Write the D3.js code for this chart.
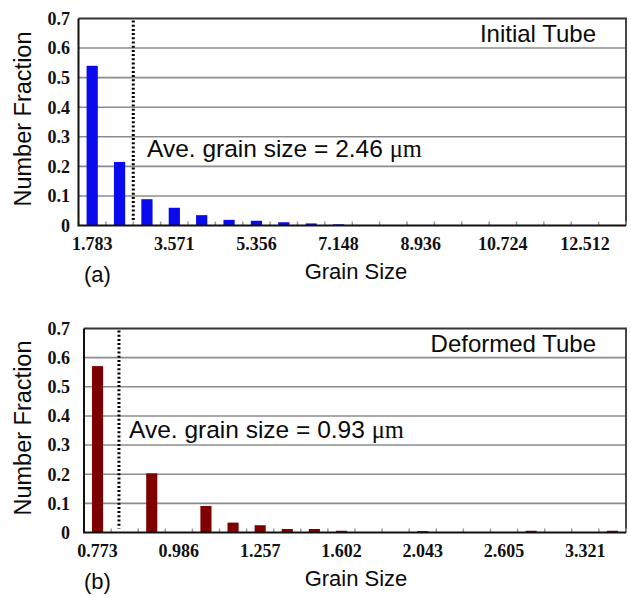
<!DOCTYPE html>
<html>
<head>
<meta charset="utf-8">
<script src="https://cdn.jsdelivr.net/npm/d3@7"></script>
<style>
  body { margin: 0; background: #fff; }
  svg { display: block; }
  .tick-lbl { font-family: "Liberation Serif", "Times New Roman", serif; font-weight: bold; font-size: 18px; fill: #111; }
  .ttl { font-family: "Liberation Sans", Arial, sans-serif; font-size: 22px; fill: #0a0a0a; }
</style>
</head>
<body>
<div id="chart"></div>
<script>

// Data: panel (a) initial tube
var sizesA = ["1.783", "2.379", "2.975", "3.571", "4.167", "4.762", "5.356", "5.952", "6.548", "7.148",
              "7.744", "8.340", "8.936", "9.532", "10.128", "10.724", "11.320", "11.916", "12.512", "13.108"];
var fracA = [0.54, 0.215, 0.089, 0.06, 0.035, 0.019, 0.016, 0.011, 0.007, 0.004,
             0, 0, 0, 0, 0, 0, 0, 0, 0, 0];

// Data: panel (b) deformed tube
var sizesB = ["0.773", "0.838", "0.909", "0.986", "1.069", "1.159", "1.257", "1.363", "1.478", "1.602",
              "1.738", "1.884", "2.043", "2.216", "2.402", "2.605", "2.825", "3.063", "3.321", "3.602"];
var fracB = [0.571, 0, 0.203, 0, 0.091, 0.034, 0.025, 0.012, 0.012, 0.006,
             0, 0, 0.005, 0, 0, 0, 0.006, 0, 0, 0.006];

var yTicks = [0, 0.1, 0.2, 0.3, 0.4, 0.5, 0.6, 0.7];

// position of the dotted average line, in category steps from the left edge
var avgPosA = 2.0,
    avgPosB = 1.29;


var width = 631,
    height = 597;

var svg = d3.select("#chart").append("svg")
    .attr("width", width)
    .attr("height", height);

svg.append("rect").attr("width", width).attr("height", height).attr("fill", "#fff");

var panels = [
    { cats: sizesA, vals: fracA, avg: avgPosA, color: "#0a0aef", left: 78.5, right: 626, top: 18.5, bottom: 225.5,
      label: "Initial Tube", avgText: "2.46", tag: "(a)", labelY: 42, avgY: 157, avgX: 147, axisTitleY: 279, numY: 119 },
    { cats: sizesB, vals: fracB, avg: avgPosB, color: "#7f0000", left: 84, right: 626, top: 328.5, bottom: 532.5,
      label: "Deformed Tube", avgText: "0.93", tag: "(b)", labelY: 352, avgY: 438, avgX: 129, axisTitleY: 586, numY: 428 }
];

panels.forEach(drawPanel);

function drawPanel(p) {

    var g = svg.append("g");

    var rows = p.cats.map(function(c, i) { return { cat: c, val: p.vals[i] }; });

    var x = d3.scaleBand()
        .domain(p.cats)
        .range([p.left, p.right])
        .paddingInner(0.59)
        .paddingOuter(0.295);

    var y = d3.scaleLinear()
        .domain([0, 0.7])
        .range([p.bottom, p.top]);

    var step = x.step();

    // gridlines
    g.selectAll(".grid")
        .data(yTicks.slice(1, -1))
        .enter().append("line")
        .attr("x1", p.left).attr("x2", p.right)
        .attr("y1", function(d) { return y(d); })
        .attr("y2", function(d) { return y(d); })
        .attr("stroke", "#8c8c8c")
        .attr("stroke-width", 1.6);

    // frame top + right
    g.append("path")
        .attr("d", "M" + p.left + "," + y(0.7) + "H" + p.right + "V" + y(0))
        .attr("fill", "none")
        .attr("stroke", "#333")
        .attr("stroke-width", 1.8);

    // bars
    g.selectAll(".bar")
        .data(rows.filter(function(d) { return d.val > 0; }))
        .enter().append("rect")
        .attr("x", function(d) { return x(d.cat); })
        .attr("y", function(d) { return y(d.val); })
        .attr("width", x.bandwidth())
        .attr("height", function(d) { return y(0) - y(d.val); })
        .attr("fill", p.color);

    // x ticks at category boundaries (pointing up)
    var bounds = d3.range(p.cats.length + 1).map(function(i) { return p.left + i * step; });
    g.selectAll(".xt")
        .data(bounds)
        .enter().append("line")
        .attr("x1", function(d) { return d; }).attr("x2", function(d) { return d; })
        .attr("y1", y(0)).attr("y2", y(0) - 4)
        .attr("stroke", "#999")
        .attr("stroke-width", 1.5);

    // axes
    g.append("path")
        .attr("d", "M" + p.left + "," + y(0.7) + "V" + y(0) + "H" + p.right)
        .attr("fill", "none")
        .attr("stroke", "#111")
        .attr("stroke-width", 2);

    // y labels
    g.selectAll(".yl")
        .data(yTicks)
        .enter().append("text")
        .attr("class", "tick-lbl")
        .attr("x", 70)
        .attr("y", function(d) { return y(d); })
        .attr("dy", "0.35em")
        .attr("text-anchor", "end")
        .text(function(d) { return d === 0 ? "0" : d3.format(".1f")(d); });

    // x labels, every third category
    g.selectAll(".xl")
        .data(p.cats.filter(function(d, i) { return i % 3 === 0; }))
        .enter().append("text")
        .attr("class", "tick-lbl")
        .attr("x", function(d) { return x(d) + x.bandwidth() / 2; })
        .attr("y", y(0) + 24)
        .attr("text-anchor", "middle")
        .text(function(d) { return d; });

    // dotted average line
    var ax = p.left + p.avg * step;
    g.append("line")
        .attr("x1", ax).attr("x2", ax)
        .attr("y1", y(0.7) + 2).attr("y2", y(0) - 4)
        .attr("stroke", "#000")
        .attr("stroke-width", 3)
        .attr("stroke-dasharray", "2,2.2");

    // texts
    g.append("text")
        .attr("class", "ttl")
        .attr("x", 596)
        .attr("y", p.labelY)
        .attr("text-anchor", "end")
        .style("font-size", "24px")
        .text(p.label);

    var t = g.append("text")
        .attr("class", "ttl")
        .attr("x", p.avgX)
        .attr("y", p.avgY)
        .style("font-size", "24.5px");
    t.append("tspan").text("Ave. grain size = " + p.avgText + " ");
    t.append("tspan")
        .style("font-family", "'Liberation Serif', 'Times New Roman', serif")
        .text("\u03bcm");

    g.append("text")
        .attr("class", "ttl")
        .attr("transform", "translate(31," + p.numY + ") rotate(-90)")
        .attr("text-anchor", "middle")
        .style("font-size", "23.5px")
        .text("Number Fraction");

    g.append("text")
        .attr("class", "ttl")
        .attr("x", 356)
        .attr("y", p.axisTitleY)
        .attr("text-anchor", "middle")
        .text("Grain Size");

    g.append("text")
        .attr("class", "ttl")
        .attr("x", 84)
        .attr("y", p.axisTitleY + 3)
        .text(p.tag);
}

</script>
</body>
</html>
